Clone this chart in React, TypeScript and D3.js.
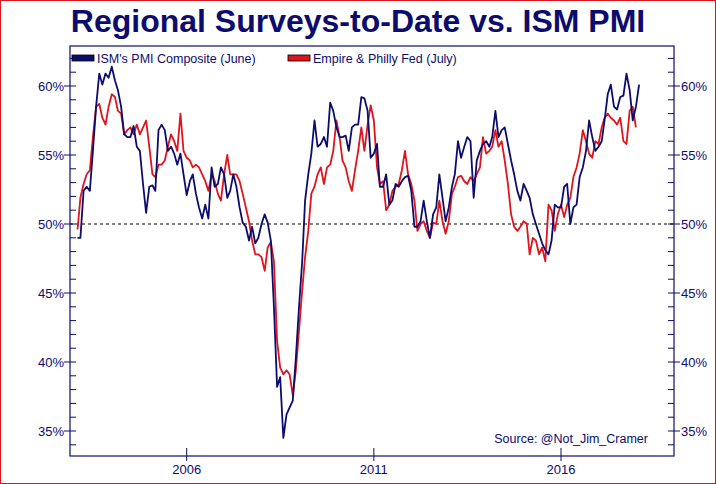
import React from "react";
import * as d3 from "d3";

// monthly readings, first month Feb 2003
const ismValues = [
  49.0, 49.0, 52.4, 52.7, 52.4, 55.3, 58.5, 60.9, 60.1, 60.9, 60.6, 61.4, 60.4, 59.7, 58.5, 56.5, 56.3, 56.3, 57.1, 55.6,
  55.3, 52.9, 50.8, 52.7, 52.8, 52.4, 56.8, 57.2, 56.8, 55.3, 55.6, 55.1, 54.3, 55.1, 53.6, 52.1, 53.1, 53.6, 52.2, 51.2,
  50.4, 51.4, 50.4, 54.1, 52.7, 52.9, 54.1, 53.6, 51.9, 52.4, 53.6, 52.7, 51.2, 50.1, 49.8, 48.8, 49.8, 48.6, 49.0, 50.0,
  50.7, 50.1, 48.8, 44.0, 38.2, 38.9, 34.5, 36.2, 36.7, 37.2, 40.3, 44.0, 47.3, 51.7, 53.6, 55.1, 57.5, 55.6, 55.8, 56.3,
  55.6, 58.8, 58.2, 57.0, 56.3, 56.3, 56.4, 55.3, 57.0, 57.2, 57.2,
  59.2, 59.1, 58.2, 54.8, 55.1, 55.8, 52.7, 52.7, 53.6, 51.4, 51.7, 52.9, 52.7, 53.1, 53.4, 53.5, 52.4, 49.8, 49.8, 50.2,
  51.7, 50.2, 49.0, 50.7, 51.2, 53.6, 51.9, 50.2, 51.2, 52.7, 53.6, 56.0, 54.8, 55.6, 56.3, 56.0, 51.9, 54.6, 55.3, 55.8,
  56.0, 55.6, 56.3, 58.2, 56.3, 56.8, 57.0, 55.8, 54.6, 53.6, 52.4, 51.7, 52.9, 52.4, 51.9, 50.7, 50.0, 49.3, 48.6, 48.1,
  47.8, 48.8, 51.4, 51.2, 51.2, 52.7, 52.9, 50.0, 51.2, 51.4, 53.4, 54.1, 55.3, 57.5, 56.3, 55.3, 55.6, 56.0, 57.5, 59.4,
  60.1, 58.5, 58.3, 59.2, 59.3, 60.9, 59.7, 57.5, 58.5, 60.1,
];

const fedValues = [
  49.6, 51.9, 52.9, 53.6, 53.9, 56.3, 58.5, 58.7, 57.7, 57.2, 58.5, 59.4, 59.2, 58.2, 58.0, 56.5, 56.8, 57.0, 56.5, 57.2,
  56.5, 57.0, 57.5, 55.6, 53.6, 53.4, 54.3, 54.3, 54.6, 55.6, 56.5, 56.0, 55.3, 58.0, 55.3, 54.8, 54.6, 54.1, 54.3, 54.1,
  53.6, 53.1, 52.4, 53.6, 53.1, 52.2, 51.7, 53.6, 55.0, 53.6, 53.6, 53.6, 53.1, 52.2, 51.2, 50.2, 48.8, 47.8, 47.8, 47.6,
  46.6, 48.3, 48.7, 47.3, 41.5, 39.6, 39.1, 39.4, 39.1, 37.6, 39.4, 42.3, 45.2, 47.6, 49.5, 52.2, 52.7, 53.6, 54.1, 52.9,
  54.1, 54.3, 55.3, 57.5, 56.3, 54.6, 54.1, 53.1, 52.4, 53.9, 55.3, 57.0,
  55.3, 57.2, 58.6, 57.5, 54.1, 52.9, 53.1, 51.0, 51.4, 52.4, 52.7, 52.9, 53.9, 55.3, 53.6, 52.9, 51.7, 49.5, 50.0, 50.2,
  49.5, 49.0, 50.1, 50.0, 51.7, 50.2, 49.3, 50.2, 52.2, 52.7, 53.4, 53.5, 53.1, 52.9, 53.4, 53.1, 53.6, 54.1, 56.3, 55.1,
  55.3, 55.6, 56.8, 55.6, 56.0, 54.6, 52.9, 50.7, 49.8, 49.5, 49.8, 50.2, 50.0, 47.8, 49.0, 48.8, 47.8, 48.3, 47.3, 51.4,
  51.0, 49.5, 50.7, 51.4, 50.5, 51.4, 51.9, 53.4, 54.1, 55.1, 56.8, 56.0, 55.1, 54.8, 56.0, 55.8, 57.0, 57.7, 58.0, 57.7,
  57.5, 57.2, 57.7, 56.0, 55.8, 58.2, 58.5, 57.0,
];

const yTicks = [35, 40, 45, 50, 55, 60];
const xTickYears = [2006, 2011, 2016];

const W = 716;
const H = 484;
const NAVY = "#0c0c6e";
const RED = "#e0141c";
const font = "Arial, 'Liberation Sans', sans-serif";

const plot = { left: 70, right: 674, top: 46, bottom: 456 };

export default function App() {
  const x = d3
    .scaleTime()
    .domain([new Date(2006, 0, 1), new Date(2016, 0, 1)])
    .range([186.7, 561]);
  const y = d3.scaleLinear().domain([50, 60]).range([224, 86]);
  const start = new Date(2003, 1, 1);
  const month = (i: number) => d3.timeMonth.offset(start, i);

  const line = d3
    .line<number>()
    .x((_, i) => x(month(i)))
    .y((d) => y(d));

  const minor = d3.range(34, 63);

  return (
    <svg width={W} height={H} style={{ position: "absolute", left: 0, top: 0 }} fontFamily={font}>
      <rect x={0.5} y={0.5} width={W - 1} height={H - 1} fill="#fff" stroke={RED} strokeWidth={1} />
      <text x={W / 2} y={32} textAnchor="middle" fontSize={32} fontWeight="bold" fill={NAVY}>
        Regional Surveys-to-Date vs. ISM PMI
      </text>
      <rect x={plot.left} y={plot.top} width={plot.right - plot.left} height={plot.bottom - plot.top}
        fill="none" stroke={NAVY} strokeWidth={1.2} />
      {/* y axes */}
      {minor.map((v) => {
        const major = v % 5 === 0;
        const yy = y(v);
        if (yy < plot.top || yy > plot.bottom) return null;
        return (
          <g key={v} stroke={NAVY} strokeWidth={1}>
            <line x1={plot.left - (major ? 6 : 0)} x2={plot.left + 6} y1={yy} y2={yy} />
            <line x1={plot.right - 6} x2={plot.right + (major ? 6 : 0)} y1={yy} y2={yy} />
          </g>
        );
      })}
      {yTicks.map((v) => (
        <g key={v} fontSize={13} fill={NAVY}>
          <text x={plot.left - 6} y={y(v) + 5} textAnchor="end">{v}%</text>
          <text x={plot.right + 7} y={y(v) + 5}>{v}%</text>
        </g>
      ))}
      {/* x axis */}
      {xTickYears.map((yr) => {
        const xx = x(new Date(yr, 0, 1));
        return (
          <g key={yr}>
            <line x1={xx} x2={xx} y1={plot.bottom - 8} y2={plot.bottom + 5} stroke={NAVY} />
            <text x={xx} y={plot.bottom + 18} textAnchor="middle" fontSize={13} fill={NAVY}>{yr}</text>
          </g>
        );
      })}
      <line x1={plot.left} x2={plot.right} y1={y(50)} y2={y(50)} stroke="#000" strokeDasharray="3,3" strokeWidth={1} />
      <path d={line(fedValues) || ""} fill="none" stroke={RED} strokeWidth={1.8} strokeLinejoin="round" />
      <path d={line(ismValues) || ""} fill="none" stroke={NAVY} strokeWidth={1.8} strokeLinejoin="round" />
      {/* legend */}
      <rect x={72} y={55} width={22} height={6} fill={NAVY} stroke="#000" strokeWidth={0.8} />
      <text x={97} y={63} fontSize={12.5} fill={NAVY}>ISM's PMI Composite (June)</text>
      <rect x={288} y={55} width={22} height={6} fill={RED} stroke="#000" strokeWidth={0.8} />
      <text x={313} y={63} fontSize={12.5} fill={NAVY}>Empire &amp; Philly Fed (July)</text>
      <text x={648} y={443} textAnchor="end" fontSize={12.5} fill={NAVY}>Source: @Not_Jim_Cramer</text>
    </svg>
  );
}
